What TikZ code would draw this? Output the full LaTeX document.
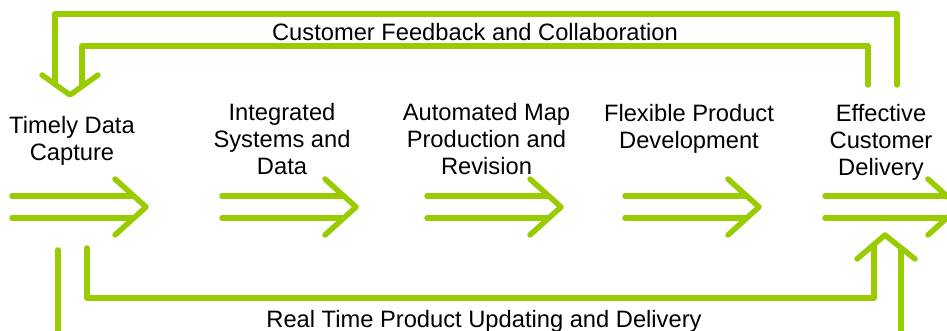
\documentclass[tikz,border=0pt]{standalone}
\usepackage{fontspec}
\setmainfont{Liberation Sans}
\definecolor{lime}{RGB}{153,204,0}
\begin{document}
\begin{tikzpicture}[x=1pt,y=-1pt,
  gline/.style={draw=lime,line width=5.5pt,line cap=round,line join=round},
  lbl/.style={font=\fontsize{23.7}{27}\selectfont,align=center,inner sep=0pt,anchor=north,text=black}]
\useasboundingbox (0,0) rectangle (947,331);
\clip (0,0) rectangle (947,331);
% text nodes
\node[lbl] (tdc) at (72,116) {Timely Data\\Capture};
\node[lbl] (isd) at (282,103) {Integrated\\Systems and\\Data};
\node[lbl] (amp) at (486.5,103) {Automated Map\\Production and\\Revision};
\node[lbl] (fpd) at (689,104) {Flexible Product\\Development};
\node[lbl] (ecd) at (881,104) {Effective\\Customer\\Delivery};
\node[lbl] (cfc) at (475,23) {Customer Feedback and Collaboration};
\node[lbl] (rtp) at (484,310) {Real Time Product Updating and Delivery};
% double arrows
\foreach \xs/\nm in {12/a,222/b,427/c,625/d,825/e}{
  \coordinate (\nm s) at (\xs,207);
  \coordinate (\nm t) at (\xs+134,207);
  \draw[gline] ([shift={(0,-11)}]\nm s) -- ([shift={(-13,-11)}]\nm t);
  \draw[gline] ([shift={(0,11)}]\nm s) -- ([shift={(-13,11)}]\nm t);
  \draw[gline] ([shift={(-31,-28)}]\nm t) -- (\nm t) -- ([shift={(-31,28)}]\nm t);
}
% top feedback loop
\coordinate (fbOutR) at (897,85);
\coordinate (fbInR) at (868,85);
\coordinate (fbTip) at (70,95);
\coordinate (fbOutL) at (55,84);
\coordinate (fbInL) at (82,86);
\draw[gline] (fbOutR) -- (897,14) -- (55,14) -- (fbOutL);
\draw[gline] (fbInR) -- (868,46) -- (82,46) -- (fbInL);
\draw[gline] ([shift={(-28,-20)}]fbTip) -- (fbTip) -- ([shift={(28,-20)}]fbTip);
% bottom loop
\coordinate (btOutL) at (58,250);
\coordinate (btInL) at (87,248);
\coordinate (btTip) at (885,235);
\coordinate (btOutR) at (901,250);
\coordinate (btInR) at (874,245);
\draw[gline] (btOutL) -- (58,350) -- (901,350) -- (btOutR);
\draw[gline] (btInL) -- (87,298) -- (874,298) -- (btInR);
\draw[gline] ([shift={(-28,24)}]btTip) -- (btTip) -- ([shift={(30,24)}]btTip);
\end{tikzpicture}
\end{document}
